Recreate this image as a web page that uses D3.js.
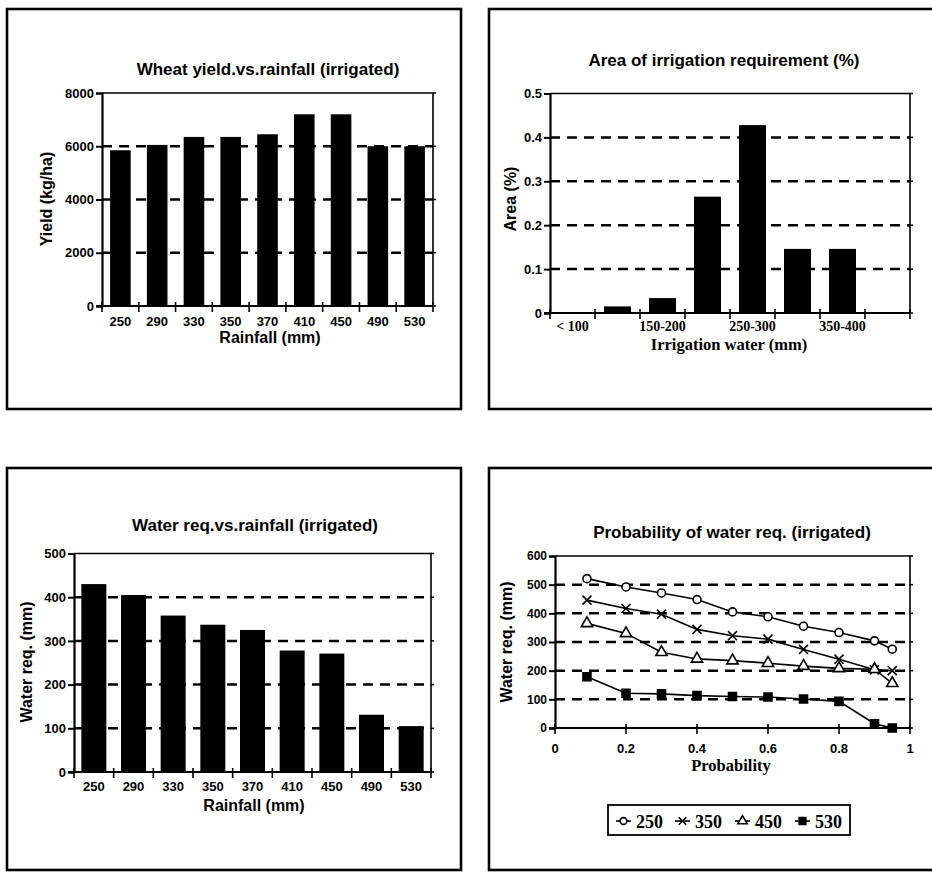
<!DOCTYPE html>
<html>
<head>
<meta charset="utf-8">
<script src="https://cdn.jsdelivr.net/npm/d3@7"></script>
<style>
  html, body { margin: 0; padding: 0; background: #fff; }
  svg { display: block; }
  .sans { font-family: "Liberation Sans", Arial, Helvetica, sans-serif; font-weight: bold; }
  .serif { font-family: "Liberation Serif", "Times New Roman", serif; font-weight: bold; }
</style>
</head>
<body>
<svg id="chart" width="932" height="873"></svg>
<script>
// Rainfall classes shared by the two rainfall charts
const rainfallCats = ["250", "290", "330", "350", "370", "410", "450", "490", "530"];
// Wheat yield (kg/ha) per rainfall class
const yieldValues = [5850, 6050, 6350, 6350, 6450, 7200, 7200, 6000, 6000];
const yieldTicks = [0, 2000, 4000, 6000, 8000];

// Irrigation water classes (mm) and share of area
const irrigationCats = ["< 100", "100-150", "150-200", "200-250", "250-300", "300-350", "350-400", "> 400"];
const irrigationLabels = ["< 100", "", "150-200", "", "250-300", "", "350-400", ""];
const areaValues = [0, 0.015, 0.034, 0.265, 0.428, 0.146, 0.146, 0];
const areaTicks = [0, 0.1, 0.2, 0.3, 0.4, 0.5];

// Irrigation water requirement (mm) per rainfall class
const waterValues = [430, 405, 358, 337, 325, 278, 271, 131, 105];
const waterTicks = [0, 100, 200, 300, 400, 500];

// Exceedance probability curves of water requirement, by rainfall class
const probability = [0.09, 0.2, 0.3, 0.4, 0.5, 0.6, 0.7, 0.8, 0.9, 0.95];
const req250 = [521, 492, 471, 448, 405, 388, 355, 333, 304, 275];
const req350 = [446, 417, 397, 344, 322, 310, 274, 240, 203, 200];
const req450 = [365, 330, 264, 241, 235, 226, 216, 208, 205, 156];
const req530 = [179, 121, 119, 113, 110, 108, 101, 93, 15, 0];
const seriesNames = ["250", "350", "450", "530"];
const probTicks = [0, 0.2, 0.4, 0.6, 0.8, 1];
const reqTicks = [0, 100, 200, 300, 400, 500, 600];

const svg = d3.select("#chart");

function panelBox(x0, y0, x1, y1) {
  svg.append("rect")
    .attr("x", x0).attr("y", y0)
    .attr("width", x1 - x0).attr("height", y1 - y0)
    .attr("fill", "none").attr("stroke", "#000").attr("stroke-width", 2.6);
}

// Frame, dashed grid, y axis and x axis ticks for one plot area
function plotFrame(g, x, y, yTicks, gridValues, yFmt, tickX, yTickSize) {
  const [xa, xb] = x.range();
  const [yb, ya] = y.range();
  // dashed grid
  g.selectAll("line.grid").data(gridValues).join("line")
    .attr("class", "grid")
    .attr("x1", xa).attr("x2", xb)
    .attr("y1", d => y(d)).attr("y2", d => y(d))
    .attr("stroke", "#000").attr("stroke-width", 2.5)
    .attr("stroke-dasharray", "10,7");
  // top and right frame
  g.append("path")
    .attr("d", `M${xa},${ya}H${xb}V${yb}`)
    .attr("fill", "none").attr("stroke", "#000").attr("stroke-width", 1.6);
  // right frame ticks
  g.selectAll("line.rt").data(yTicks).join("line")
    .attr("class", "rt")
    .attr("x1", xb).attr("x2", xb + 3)
    .attr("y1", d => y(d)).attr("y2", d => y(d))
    .attr("stroke", "#000").attr("stroke-width", 1.5);
  // y axis
  const yAxis = g.append("g").attr("transform", `translate(${xa},0)`)
    .call(d3.axisLeft(y).tickValues(yTicks).tickFormat(yFmt).tickSize(6).tickPadding(2));
  yAxis.select(".domain").attr("stroke-width", 2.2);
  yAxis.selectAll(".tick line").attr("stroke-width", 2);
  yAxis.selectAll("text").attr("class", "sans").attr("font-size", yTickSize || 13).attr("fill", "#000");
  // bottom axis line
  g.append("line").attr("x1", xa - 6).attr("x2", xb)
    .attr("y1", yb).attr("y2", yb)
    .attr("stroke", "#000").attr("stroke-width", 2.2);
  // x ticks crossing the axis
  g.selectAll("line.xt").data(tickX).join("line")
    .attr("class", "xt")
    .attr("x1", d => d).attr("x2", d => d)
    .attr("y1", yb - 4).attr("y2", yb + 6)
    .attr("stroke", "#000").attr("stroke-width", 1.6);
}

function title(text, cx, by, size) {
  svg.append("text").attr("class", "sans")
    .attr("x", cx).attr("y", by).attr("text-anchor", "middle")
    .attr("font-size", size || 17).text(text);
}

function yLabel(text, cx, cy, size) {
  svg.append("text").attr("class", "sans")
    .attr("transform", `translate(${cx},${cy}) rotate(-90)`)
    .attr("text-anchor", "middle").attr("dominant-baseline", "central")
    .attr("font-size", size || 16).text(text);
}

function xLabel(text, cx, by, cls, size) {
  svg.append("text").attr("class", cls || "sans")
    .attr("x", cx).attr("y", by).attr("text-anchor", "middle")
    .attr("font-size", size || 16).text(text);
}

// Bar chart over categorical x
function barChart(cats, values, labels, xr, yr, ymax, yTicks, gridValues, yFmt, pad, labelY, labelCls, labelSize) {
  const g = svg.append("g");
  const x = d3.scaleBand().domain(cats).range(xr).paddingInner(pad).paddingOuter(pad / 2);
  const y = d3.scaleLinear().domain([0, ymax]).range(yr);
  const step = x.step();
  const bounds = d3.range(cats.length + 1).map(i => xr[0] + i * step);
  plotFrame(g, d3.scaleLinear().range(xr), y, yTicks, gridValues, yFmt, bounds);
  g.selectAll("rect.bar").data(values).join("rect")
    .attr("class", "bar")
    .attr("x", (d, i) => x(cats[i]))
    .attr("width", x.bandwidth())
    .attr("y", d => y(d))
    .attr("height", d => y(0) - y(d))
    .attr("fill", "#000");
  g.selectAll("text.xl").data(labels).join("text")
    .attr("class", labelCls)
    .attr("x", (d, i) => x(cats[i]) + x.bandwidth() / 2)
    .attr("y", labelY).attr("text-anchor", "middle")
    .attr("font-size", labelSize).text(d => d);
  return g;
}

/* ---------- Wheat yield vs rainfall ---------- */
panelBox(7, 9, 461, 409);
title("Wheat yield.vs.rainfall (irrigated)", 268, 75);
barChart(rainfallCats, yieldValues, rainfallCats, [102, 433], [306, 93], 8000,
  yieldTicks, [2000, 4000, 6000], d3.format("d"), 0.44, 326, "sans", 13);
yLabel("Yield (kg/ha)", 46, 199);
xLabel("Rainfall (mm)", 270, 343);

/* ---------- Area of irrigation requirement ---------- */
panelBox(489, 9, 945, 409);
title("Area of irrigation requirement (%)", 724, 66);
barChart(irrigationCats, areaValues, irrigationLabels, [550, 910], [313, 93.5], 0.5,
  areaTicks, [0.1, 0.2, 0.3, 0.4], d => d === 0 ? "0" : d3.format(".1f")(d), 0.4, 331, "serif", 14);
yLabel("Area (%)", 510, 199);
xLabel("Irrigation water (mm)", 729, 350, "serif", 16.5);

/* ---------- Water requirement vs rainfall ---------- */
panelBox(7, 468, 461, 870);
title("Water req.vs.rainfall (irrigated)", 255, 531);
barChart(rainfallCats, waterValues, rainfallCats, [74, 431], [772, 553.5], 500,
  waterTicks, [100, 200, 300, 400], d3.format("d"), 0.37, 791, "sans", 13);
yLabel("Water req. (mm)", 26, 662);
xLabel("Rainfall (mm)", 254, 811);

/* ---------- Probability of water requirement ---------- */
panelBox(489, 468, 945, 870);
title("Probability of water req. (irrigated)", 732, 538);
{
  const g = svg.append("g");
  const x = d3.scaleLinear().domain([0, 1]).range([555, 910]);
  const y = d3.scaleLinear().domain([0, 600]).range([728, 556]);
  plotFrame(g, x, y, reqTicks, [100, 200, 300, 400, 500], d3.format("d"), probTicks.map(x), 12);
  g.selectAll("text.xl").data(probTicks).join("text")
    .attr("class", "sans")
    .attr("x", d => x(d)).attr("y", 753).attr("text-anchor", "middle")
    .attr("font-size", 13).text(d => d === 0 || d === 1 ? String(d) : d3.format(".1f")(d));

  const allSeries = [req250, req350, req450, req530];
  const symbols = [
    { type: d3.symbolCircle, size: 50, fill: "#fff" },
    { type: d3.symbolTimes, size: 55, fill: "none" },
    { type: d3.symbolTriangle, size: 55, fill: "#fff" },
    { type: d3.symbolSquare, size: 64, fill: "#000" }
  ];
  const line = d3.line().x((d, i) => x(probability[i])).y(d => y(d));
  allSeries.forEach(vals => {
    g.append("path").attr("d", line(vals))
      .attr("fill", "none").attr("stroke", "#000").attr("stroke-width", 1.6);
  });
  allSeries.forEach((vals, k) => {
    const s = symbols[k];
    g.selectAll(null).data(vals).join("path")
      .attr("transform", (d, i) => `translate(${x(probability[i])},${y(d)})`)
      .attr("d", d3.symbol(s.type, s.size))
      .attr("fill", s.fill).attr("stroke", "#000").attr("stroke-width", 1.6);
  });

  // legend
  const lg = svg.append("g");
  lg.append("rect").attr("x", 608).attr("y", 805).attr("width", 242).attr("height", 30)
    .attr("fill", "#fff").attr("stroke", "#000").attr("stroke-width", 1.8);
  const lx = [616, 675, 735, 795];
  seriesNames.forEach((name, k) => {
    const s = symbols[k];
    lg.append("line").attr("x1", lx[k]).attr("x2", lx[k] + 15)
      .attr("y1", 821).attr("y2", 821).attr("stroke", "#000").attr("stroke-width", 1.6);
    lg.append("path").attr("transform", `translate(${lx[k] + 7.5},821)`)
      .attr("d", d3.symbol(s.type, s.size * 0.7))
      .attr("fill", s.fill).attr("stroke", "#000").attr("stroke-width", 1.6);
    lg.append("text").attr("class", "serif")
      .attr("x", lx[k] + 20).attr("y", 828)
      .attr("font-size", 18).attr("font-weight", "normal").text(name);
  });
}
yLabel("Water req. (mm)", 506, 642);
xLabel("Probability", 731, 771, "serif", 16.5);
</script>
</body>
</html>
